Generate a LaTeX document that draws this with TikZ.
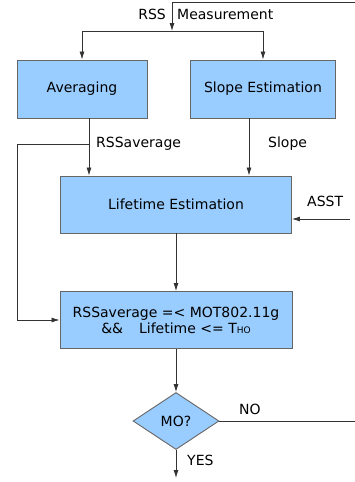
\documentclass[tikz,border=0pt]{standalone}
\usepackage{fontspec}
\setmainfont{DejaVu Sans}
\usepackage{tikz}
\usetikzlibrary{shapes.geometric,arrows.meta}

\definecolor{boxblue}{HTML}{99CCFF}
\definecolor{edgegray}{HTML}{666666}
\definecolor{linegray}{HTML}{333333}

\begin{document}
\begin{tikzpicture}[x=1pt,y=-1pt,
  box/.style={draw=edgegray,fill=boxblue,line width=0.9pt,inner sep=0pt,
    font=\fontsize{14}{16}\selectfont,align=center},
  decision/.style={diamond,draw=edgegray,fill=boxblue,line width=0.9pt,inner sep=0pt,
    minimum width=86pt,minimum height=57pt,font=\fontsize{14}{16}\selectfont},
  flow/.style={draw=linegray,line width=0.8pt,-{Latex[length=8pt,width=5pt]}},
  lbl/.style={anchor=west,inner sep=0pt,font=\fontsize{14}{16}\selectfont}]
\useasboundingbox (0,0) rectangle (355,482);

% boxes
\node[box,minimum width=130pt,minimum height=58pt] (avg) at (82,89) {Averaging};
\node[box,minimum width=145pt,minimum height=58pt] (slope) at (263,89) {Slope Estimation};
\node[box,minimum width=231pt,minimum height=57pt] (life) at (176,204.5) {Lifetime Estimation};
\node[box,minimum width=232pt,minimum height=57pt] (cond) at (176,320)
  {RSSaverage =< MOT802.11g\\\&\&\hspace{16pt}Lifetime <= T{\fontsize{9}{9}\selectfont HO}};
\node[decision] (mo) at (176,421) {MO?};

% free ends
\coordinate (src) at (355,2);
\coordinate (split) at (172,31);
\coordinate (ra) at (89,144);
\coordinate (sx) at (249,144);
\coordinate (loop) at (17,320);
\coordinate (asst) at (350,219);
\coordinate (no) at (355,421);
\coordinate (yes) at (176,478);

% labels
\node[anchor=east,inner sep=0pt,font=\fontsize{14}{16}\selectfont] (rsslbl) at (166,14) {RSS};
\node[lbl] (measlbl) at (177,14) {Measurement};
\node[lbl] (avglbl) at (96,144) {RSSaverage};
\node[lbl] (slopelbl) at (268,144) {Slope};
\node[lbl] (asstlbl) at (307,201) {ASST};
\node[lbl] (nolbl) at (239,409) {NO};
\node[lbl] (yeslbl) at (187,460) {YES};

% connectors
\draw[flow] (src) -| (split);
\draw[flow] (split) -| (avg);
\draw[flow] (split) -| (slope);
\draw[draw=linegray,line width=0.8pt] (avg.south -| ra) -- (ra);
\draw[flow] (ra) -- (life.north -| ra);
\draw[flow] (ra) -| (loop) -- (cond.west);
\draw[flow] (slope.south -| sx) -- (life.north -| sx);
\draw[flow] (asst) -- (life.east |- asst);
\draw[flow] (life) -- (cond);
\draw[flow] (cond) -- (mo);
\draw[draw=linegray,line width=0.8pt] (mo.east) -- (no);
\draw[flow] (mo.south) -- (yes);
\end{tikzpicture}
\end{document}
